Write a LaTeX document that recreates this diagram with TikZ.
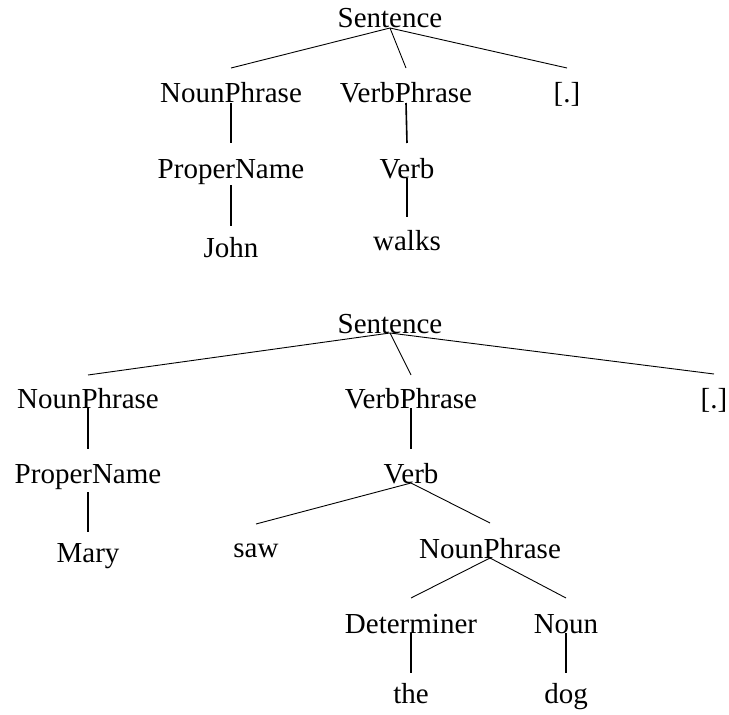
\documentclass[tikz,border=0pt]{standalone}
\usepackage{fontspec}
\setmainfont{Liberation Serif}
\begin{document}
\begin{tikzpicture}[x=1bp,y=-1bp,
  lbl/.style={inner sep=0pt,anchor=base,font=\fontsize{29bp}{34bp}\selectfont},
  diag/.style={line width=0.9bp},
  vert/.style={line width=1.6bp}]
\useasboundingbox (0,0) rectangle (729,715);
% Tree 1
\node[lbl] (s1) at (390,28) {Sentence};
\node[lbl] (np1) at (231,103) {NounPhrase};
\node[lbl] (vp1) at (406,103) {VerbPhrase};
\node[lbl] (p1) at (567,103) {[.]};
\node[lbl] (pn1) at (231,178) {ProperName};
\node[lbl] (v1) at (407,178) {Verb};
\node[lbl] (john) at (231,257) {John};
\node[lbl] (walks) at (407,250) {walks};
\draw[diag] (s1.base) -- ([yshift=35bp]np1.base);
\draw[diag] (s1.base) -- ([yshift=35bp]vp1.base);
\draw[diag] (s1.base) -- ([yshift=35bp]p1.base);
\draw[vert] (np1.base) -- ([yshift=35bp]pn1.base);
\draw[vert] (vp1.base) -- ([yshift=35bp]v1.base);
\draw[vert] ([yshift=-7bp]pn1.base) -- ([yshift=31bp]john.base);
\draw[vert] (v1.base) -- ([yshift=33bp]walks.base);
% Tree 2
\node[lbl] (s2) at (390,333) {Sentence};
\node[lbl] (np2) at (88,408) {NounPhrase};
\node[lbl] (vp2) at (411,408) {VerbPhrase};
\node[lbl] (p2) at (714,408) {[.]};
\node[lbl] (pn2) at (88,483) {ProperName};
\node[lbl] (v2) at (411,483) {Verb};
\node[lbl] (mary) at (88,562) {Mary};
\node[lbl] (saw) at (256,557) {saw};
\node[lbl] (np3) at (490,558) {NounPhrase};
\node[lbl] (det) at (411,633) {Determiner};
\node[lbl] (noun) at (566,633) {Noun};
\node[lbl] (the) at (411,703) {the};
\node[lbl] (dog) at (566,703) {dog};
\draw[diag] (s2.base) -- ([yshift=33bp]np2.base);
\draw[diag] (s2.base) -- ([yshift=33bp]vp2.base);
\draw[diag] (s2.base) -- ([yshift=34bp]p2.base);
\draw[vert] (np2.base) -- ([yshift=34bp]pn2.base);
\draw[vert] (vp2.base) -- ([yshift=34bp]v2.base);
\draw[vert] ([yshift=-9bp]pn2.base) -- ([yshift=30bp]mary.base);
\draw[diag] (v2.base) -- ([yshift=33bp]saw.base);
\draw[diag] (v2.base) -- ([yshift=35bp]np3.base);
\draw[diag] (np3.base) -- ([yshift=35bp]det.base);
\draw[diag] (np3.base) -- ([yshift=35bp]noun.base);
\draw[vert] (det.base) -- ([yshift=30bp]the.base);
\draw[vert] (noun.base) -- ([yshift=30bp]dog.base);
\end{tikzpicture}
\end{document}
